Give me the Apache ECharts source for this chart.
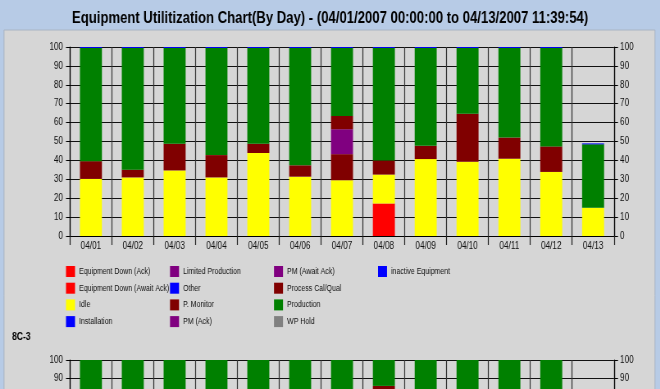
<!DOCTYPE html>
<html>
<head>
<meta charset="utf-8">
<script src="https://cdn.jsdelivr.net/npm/echarts@6/dist/echarts.min.js"></script>
<style>
html,body{margin:0;padding:0;background:#b7cbe6;overflow:hidden;width:660px;height:389px;}
#c{width:805px;height:560px;transform:scaleX(0.82);transform-origin:0 0;}
</style>
</head>
<body>
<div id="c"></div>
<script>
const categories = ['04/01','04/02','04/03','04/04','04/05','04/06','04/07','04/08','04/09','04/10','04/11','04/12','04/13'];
const legendNames = ['Equipment Down (Ack)','Equipment Down (Await Ack)','Idle','Installation','Limited Production','Other','P. Monitor','PM (Ack)','PM (Await Ack)','Process Cal/Qual','Production','WP Hold','inactive Equipment'];
const legendColors = ['#ff0000','#ff0000','#ffff00','#0000ff','#800080','#0000ff','#800000','#800080','#800080','#800000','#008000','#808080','#0000ff'];

// Chart 1 (top)
const eqDownAck1   = [0,0,0,0,0,0,0,17.2,0,0,0,0,0];
const idle1        = [30.2,31.0,34.7,31.0,43.9,31.4,29.5,15.3,40.7,39.3,40.9,33.9,14.9];
const pMonitor1    = [0,0,0,0,0,0,13.8,0,0,0,0,0,0];
const pmAck1       = [0,0,0,0,0,0,13.2,0,0,0,0,0,0];
const procCal1     = [9.4,4.1,14.1,11.8,4.9,6.0,7.0,7.5,7.0,25.4,11.2,13.5,0];
const production1  = [59.9,64.4,50.7,56.7,50.7,62.1,36.0,59.5,51.8,34.8,47.4,52.1,33.6];
const inactive1    = [0.5,0.5,0.5,0.5,0.5,0.5,0.5,0.5,0.5,0.5,0.5,0.5,0.5];

// Chart 2 (8C-3, mostly cut off)
const idle2        = [32,28,36,30,40,33,31,60,38,35,39,34,16];
const procCal2     = [8,6,10,12,5,7,9,26,8,14,10,12,0];
const production2  = [60,66,54,58,55,60,60,14,54,51,51,54,33];

const S = 0.82; // horizontal squeeze applied by CSS
const X = v => v / S;
const zeros = categories.map(() => 0);
const FONT = "'Liberation Sans',Arial,sans-serif";

const chart1Data = {
  'Equipment Down (Ack)': eqDownAck1,
  'Idle': idle1,
  'P. Monitor': pMonitor1,
  'PM (Ack)': pmAck1,
  'Process Cal/Qual': procCal1,
  'Production': production1,
  'inactive Equipment': inactive1
};
const chart2Data = {
  'Idle': idle2,
  'Process Cal/Qual': procCal2,
  'Production': production2
};

const series = [];
legendNames.forEach((n, i) => {
  series.push({name:n, type:'bar', stack:'a', xAxisIndex:0, yAxisIndex:0, barWidth:X(22),
    itemStyle:{color:legendColors[i]}, data: chart1Data[n] || zeros, emphasis:{disabled:true}});
});
legendNames.forEach((n, i) => {
  if (!chart2Data[n]) return;
  series.push({name:n, type:'bar', stack:'b', xAxisIndex:1, yAxisIndex:2, barWidth:X(22),
    itemStyle:{color:legendColors[i]}, data: chart2Data[n], emphasis:{disabled:true}});
});

function xAxis(gi){
  return {type:'category', gridIndex:gi, data:categories, boundaryGap:true,
    axisLine:{lineStyle:{color:'#000',width:1}},
    axisTick:{show:true, length:9, lineStyle:{color:'#222', width:X(1)}},
    axisLabel:{color:'#111', fontSize:10, fontFamily:FONT, margin:5},
    splitLine:{show:true, lineStyle:{color:'#333',width:X(1)}}};
}
function yAxis(gi, pos, grid){
  return {type:'value', gridIndex:gi, position:pos, min:0, max:100, interval:10,
    axisLine:{show:true, lineStyle:{color:'#000', width:X(1)}},
    axisTick:{show:true, length:X(4), lineStyle:{color:'#000'}},
    axisLabel:{color:'#111', fontSize:10, fontFamily:FONT, margin: pos==='left'?X(7):X(6)},
    splitLine:{show:grid, lineStyle:{color:'#111',width:1}}};
}

const legends = [
  legendNames.slice(0,4), legendNames.slice(4,8), legendNames.slice(8,12), legendNames.slice(12)
].map((d, k) => ({
  data:d, orient:'vertical', left:X(66 + k*104), top:266, padding:0,
  itemWidth:X(9), itemHeight:11, itemGap:5.7,
  icon:'rect', selectedMode:false, textStyle:{fontSize:8.5, color:'#111', fontFamily:FONT}
}));

const option = {
  animation:false,
  backgroundColor:'#b7cbe6',
  textStyle:{fontFamily:FONT},
  title:{text:'Equipment Utilitization Chart(By Day) - (04/01/2007 00:00:00 to 04/13/2007 11:39:54)',
    left:'center', top:6, textStyle:{fontSize:16, fontWeight:'bold', color:'#000', fontFamily:FONT}},
  graphic:[
    {type:'rect', z:-10, shape:{x:X(4),y:30,width:X(651),height:540}, style:{fill:'#d6d6d6', stroke:'#a8b4c4', lineWidth:1}},
    {type:'text', left:X(12), top:332, style:{text:'8C-3', fill:'#000', font:"bold 10.5px "+FONT}}
  ],
  legend:legends,
  grid:[
    {left:X(70), top:47, width:X(544), height:189},
    {left:X(70), top:360, width:X(544), height:189}
  ],
  xAxis:[xAxis(0), xAxis(1)],
  yAxis:[yAxis(0,'left',true), yAxis(0,'right',false), yAxis(1,'left',true), yAxis(1,'right',false)],
  series:series
};
const chart = echarts.init(document.getElementById('c'), null, {renderer:'canvas'});
chart.setOption(option);
</script>
</body>
</html>
